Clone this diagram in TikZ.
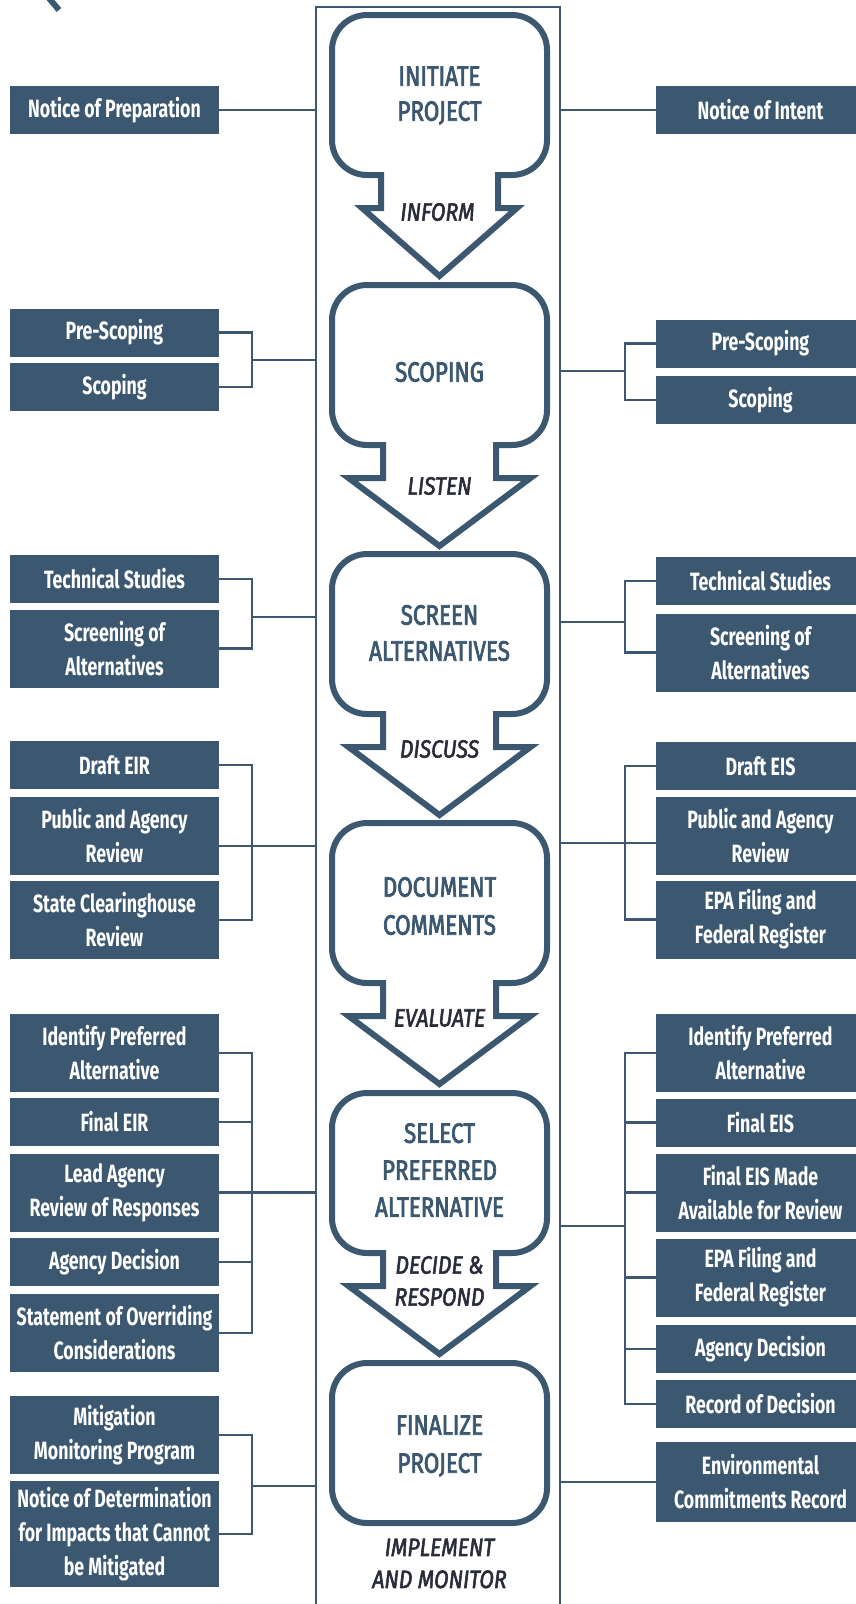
\documentclass[tikz,border=0pt]{standalone}
\usepackage{fontspec}
\newfontfamily\boxfnt{Fira Sans}[FakeStretch=0.71]
\newfontfamily\stepfnt{Fira Sans}[FakeStretch=0.8, FakeBold=2.6]
\newfontfamily\verbfnt{Fira Sans}[FakeStretch=0.85, FakeBold=2.2]
\definecolor{slate}{HTML}{3B5870}
\definecolor{ink}{HTML}{2A2C3A}
\tikzset{
  lbox/.style={fill=slate, text=white, font=\boxfnt\bfseries\fontsize{25}{34}\selectfont,
    align=center, minimum width=209pt, inner sep=0pt},
  conn/.style={draw=slate, line width=2.6pt},
  stepline/.style={draw=slate, line width=6pt, line join=miter},
  steplbl/.style={text=slate, align=center, inner sep=0pt},
  verblbl/.style={text=ink, align=center, inner sep=0pt},
}
\newcommand\stepshp[3]{%
  \pgfmathsetmacro\sT{#1}%
  \pgfmathsetmacro\sTa{#1+15.7}%
  \pgfmathsetmacro\sTb{#1+35}%
  \pgfmathsetmacro\sB{#1+160}%
  \pgfmathsetmacro\sBa{#1+160-15.7}%
  \pgfmathsetmacro\sBb{#1+160-35}%
  \pgfmathsetmacro\sW{#1+193}%
  \pgfmathsetmacro\sP{#1+261}%
  \pgfmathsetmacro\sL{439.5-#3}%
  \pgfmathsetmacro\sR{439.5+#3}%
  \pgfmathsetmacro\wL{439.5-#2}%
  \pgfmathsetmacro\wR{439.5+#2}%
  \draw[stepline] (\sL,\sW) -- (\sL,\sB) -- (367,\sB)
    .. controls (347.7,\sB) and (332,\sBa) .. (332,\sBb) -- (332,\sTb)
    .. controls (332,\sTa) and (347.7,\sT) .. (367,\sT) -- (512,\sT)
    .. controls (531.3,\sT) and (547,\sTa) .. (547,\sTb) -- (547,\sBb)
    .. controls (547,\sBa) and (531.3,\sB) .. (512,\sB) -- (\sR,\sB)
    -- (\sR,\sW) -- (\wR,\sW) -- (439.5,\sP) -- (\wL,\sW) -- cycle;
}
\begin{document}
\begin{tikzpicture}[x=1pt,y=-1pt]
\useasboundingbox (0,0) rectangle (856,1604);
\clip (0,0) rectangle (856,1604);
\coordinate (fl) at (316,0);
\coordinate (fr) at (560,0);
\coordinate (bl) at (252,0);
\coordinate (br) at (625,0);

% fragment at top left
\draw[slate, line width=6pt] (48,-3) -- (59,10);

% central frame
\draw[conn] (316,1620) -- (316,7) -- (560,7) -- (560,1620);

% step shapes
\stepshp{15}{77.5}{58.5}
\stepshp{285}{91}{56.5}
\stepshp{554}{91}{56.5}
\stepshp{823}{91}{56.5}
\stepshp{1093}{91}{56.5}
\draw[stepline, rounded corners=35pt] (332,1363) rectangle (547,1523);

% step labels
\begin{scope}[every node/.append style={steplbl}]
\node[font=\stepfnt\fontsize{28}{35}\selectfont] (s1) at (439.5,95.5) {INITIATE\\PROJECT};
\node[font=\stepfnt\fontsize{28}{35}\selectfont] (s2) at (439.5,372) {SCOPING};
\node[font=\stepfnt\fontsize{28}{36}\selectfont] (s3) at (439.5,633) {SCREEN\\ALTERNATIVES};
\node[font=\stepfnt\fontsize{28}{38}\selectfont] (s4) at (439.5,906) {DOCUMENT\\COMMENTS};
\node[font=\stepfnt\fontsize{28}{37}\selectfont] (s5) at (439.5,1170) {SELECT\\PREFERRED\\ALTERNATIVE};
\node[font=\stepfnt\fontsize{28}{38}\selectfont] (s6) at (439.5,1446) {FINALIZE\\PROJECT};
\end{scope}
\begin{scope}[every node/.append style={verblbl, font=\verbfnt\itshape\fontsize{25}{32}\selectfont}]
\node (v1) at (437.5,212) {INFORM};
\node (v2) at (439.5,486) {LISTEN};
\node (v3) at (439.5,749) {DISCUSS};
\node (v4) at (439.5,1018) {EVALUATE};
\node (v5) at (439.5,1281) {DECIDE \&\\RESPOND};
\node (v6) at (439.5,1563.5) {IMPLEMENT\\AND MONITOR};
\end{scope}

% left boxes
\node[lbox,minimum height=48pt] (L1) at (114.5,110) {Notice of Preparation};
\node[lbox,minimum height=48pt] (L2a) at (114.5,332.5) {Pre-Scoping};
\node[lbox,minimum height=48pt] (L2b) at (114.5,387) {Scoping};
\node[lbox,minimum height=48pt] (L3a) at (114.5,579) {Technical Studies};
\node[lbox,minimum height=78pt] (L3b) at (114.5,648.5) {Screening of\\Alternatives};
\node[lbox,minimum height=48pt] (L4a) at (114.5,765) {Draft EIR};
\node[lbox,minimum height=78pt] (L4b) at (114.5,836) {Public and Agency\\Review};
\node[lbox,minimum height=78pt] (L4c) at (114.5,920) {State Clearinghouse\\Review};
\node[lbox,minimum height=78pt] (L5a) at (114.5,1053) {Identify Preferred\\Alternative};
\node[lbox,minimum height=48pt] (L5b) at (114.5,1122) {Final EIR};
\node[lbox,minimum height=78pt] (L5c) at (114.5,1192.5) {Lead Agency\\Review of Responses};
\node[lbox,minimum height=48pt] (L5d) at (114.5,1262) {Agency Decision};
\node[lbox,minimum height=78pt] (L5e) at (114.5,1333) {Statement of Overriding\\Considerations};
\node[lbox,minimum height=78pt] (L6a) at (114.5,1435) {Mitigation\\Monitoring Program};
\node[lbox,minimum height=106pt] (L6b) at (114.5,1534) {Notice of Determination\\for Impacts that Cannot\\be Mitigated};

% right boxes
\node[lbox,minimum height=48pt] (R1) at (760.5,110) {Notice of Intent};
\node[lbox,minimum height=48pt] (R2a) at (760.5,343.5) {Pre-Scoping};
\node[lbox,minimum height=48pt] (R2b) at (760.5,400) {Scoping};
\node[lbox,minimum height=48pt] (R3a) at (760.5,581) {Technical Studies};
\node[lbox,minimum height=78pt] (R3b) at (760.5,652.5) {Screening of\\Alternatives};
\node[lbox,minimum height=48pt] (R4a) at (760.5,766) {Draft EIS};
\node[lbox,minimum height=78pt] (R4b) at (760.5,836) {Public and Agency\\Review};
\node[lbox,minimum height=78pt] (R4c) at (760.5,919.5) {EPA Filing and\\Federal Register};
\node[lbox,minimum height=78pt] (R5a) at (760.5,1053) {Identify Preferred\\Alternative};
\node[lbox,minimum height=48pt] (R5b) at (760.5,1122.5) {Final EIS};
\node[lbox,minimum height=78pt] (R5c) at (760.5,1192.5) {Final EIS Made\\Available for Review};
\node[lbox,minimum height=78pt] (R5d) at (760.5,1277.5) {EPA Filing and\\Federal Register};
\node[lbox,minimum height=48pt] (R5e) at (760.5,1349) {Agency Decision};
\node[lbox,minimum height=48pt] (R5f) at (760.5,1404) {Record of Decision};
\node[lbox,minimum height=80pt] (R6) at (760.5,1482) {Environmental\\Commitments Record};

% left connectors
\draw[conn] (L1.east) -- (L1.east -| fl);
\draw[conn] (L2a.east) -- (L2a.east -| bl) -- (L2b.east -| bl) -- (L2b.east);
\coordinate (jL2) at (252,360);
\draw[conn] (jL2) -- (jL2 -| fl);
\draw[conn] (L3a.east) -- (L3a.east -| bl) -- (L3b.east -| bl) -- (L3b.east);
\coordinate (jL3) at (252,617);
\draw[conn] (jL3) -- (jL3 -| fl);
\draw[conn] (L4a.east) -- (L4a.east -| bl) -- (L4c.east -| bl) -- (L4c.east);
\draw[conn] ([yshift=-10pt]L4b.east) -- ([yshift=-10pt]L4b.east -| fl);
\draw[conn] (L5a.east) -- (L5a.east -| bl) -- (L5e.east -| bl) -- (L5e.east);
\draw[conn] (L5b.east) -- (L5b.east -| bl);
\draw[conn] (L5d.east) -- (L5d.east -| bl);
\draw[conn] (L5c.east) -- (L5c.east -| fl);
\draw[conn] (L6a.east) -- (L6a.east -| bl) -- (L6b.east -| bl) -- (L6b.east);
\coordinate (jL6) at (252,1486);
\draw[conn] (jL6) -- (jL6 -| fl);

% right connectors
\draw[conn] (R1.west) -- (R1.west -| fr);
\draw[conn] (R2a.west) -- (R2a.west -| br) -- (R2b.west -| br) -- (R2b.west);
\coordinate (jR2) at (625,371);
\draw[conn] (jR2) -- (jR2 -| fr);
\draw[conn] (R3a.west) -- (R3a.west -| br) -- (R3b.west -| br) -- (R3b.west);
\coordinate (jR3) at (625,622);
\draw[conn] (jR3) -- (jR3 -| fr);
\draw[conn] (R4a.west) -- (R4a.west -| br) -- (R4c.west -| br) -- (R4c.west);
\draw[conn] ([yshift=-7pt]R4b.west) -- ([yshift=-7pt]R4b.west -| fr);
\draw[conn] (R5a.west) -- (R5a.west -| br) -- (R5f.west -| br) -- (R5f.west);
\draw[conn] (R5b.west) -- (R5b.west -| br);
\draw[conn] (R5c.west) -- (R5c.west -| br);
\draw[conn] (R5d.west) -- (R5d.west -| br);
\draw[conn] (R5e.west) -- (R5e.west -| br);
\coordinate (jR5) at (625,1226);
\draw[conn] (jR5) -- (jR5 -| fr);
\draw[conn] (R6.west) -- (R6.west -| fr);
\end{tikzpicture}
\end{document}
